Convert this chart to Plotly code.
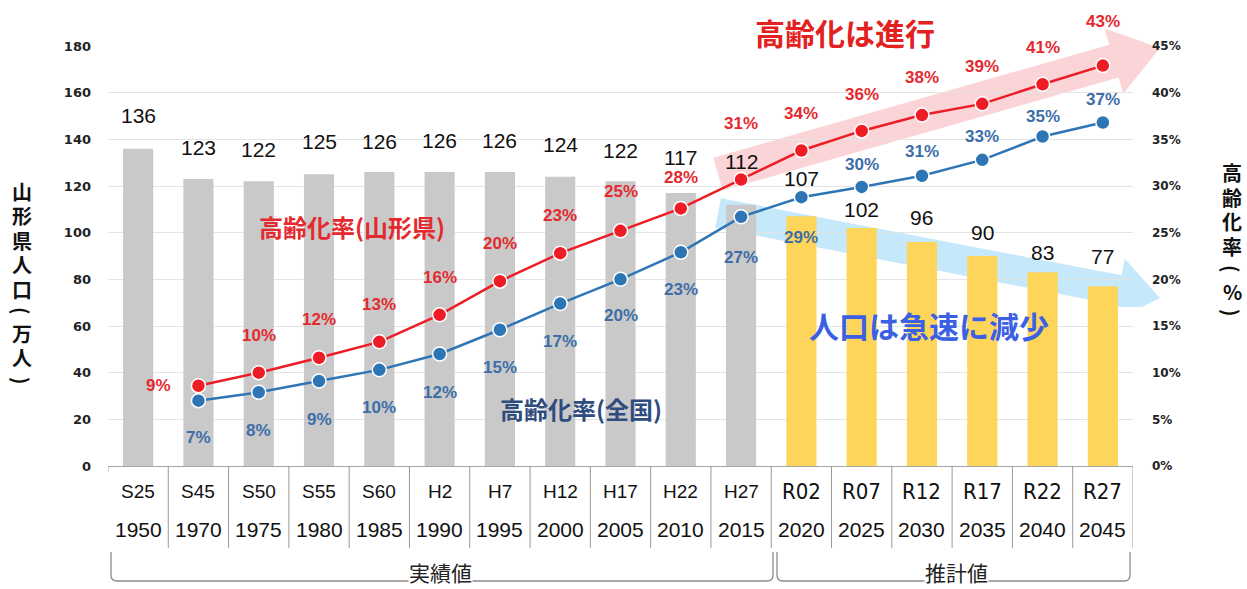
import math
import plotly.graph_objects as go

# ---------------- data ----------------
era_labels = ["S25", "S45", "S50", "S55", "S60", "H2", "H7", "H12", "H17", "H22", "H27",
              "R02", "R07", "R12", "R17", "R22", "R27"]
year_labels = ["1950", "1970", "1975", "1980", "1985", "1990", "1995", "2000", "2005", "2010",
               "2015", "2020", "2025", "2030", "2035", "2040", "2045"]
population = [136, 123, 122, 125, 126, 126, 126, 124, 122, 117, 112, 107, 102, 96, 90, 83, 77]
n_actual = 11  # first 11 are 実績値, rest 推計値
rate_yamagata = [8.6, 10.0, 11.6, 13.3, 16.2, 19.8, 22.8, 25.2, 27.6, 30.7,
                 33.8, 35.9, 37.6, 38.8, 40.9, 42.9]
rate_national = [7.0, 7.9, 9.1, 10.3, 12.0, 14.6, 17.4, 20.0, 22.9, 26.7,
                 28.8, 29.9, 31.1, 32.8, 35.3, 36.8]
rate_start = 1  # rates start at the second category (1970)

# label offsets (pixels, style only)
bar_label_shift = [33, 32, 32, 33, 31, 32, 32, 32, 31, 36, 43, 38, 19, 25, 24, 20, 30]
red_label_shift = [0, 37, 38, 37, 37, 38, 38, 39, 31, 56, 37, 36, 38, 37, 37, 44]
red_label_xshift = [-40] + [0] * 15
blue_label_shift = [-37, -38, -38, -38, -38, -38, -38, -36, -37, -41, -40, 22, 24, 23, 20, 23]

# ---------------- styles ----------------
NUM = "Liberation Sans, Arial, sans-serif"
NARROW = "Liberation Sans Narrow, DejaVu Sans Condensed, Arial Narrow, sans-serif"
JP = "Noto Sans CJK JP, sans-serif"
RED = "#ee1d25"
RED_TXT = "#e42a2f"
BLUE = "#2e75b6"
BLUE_TXT = "#3d6ea8"
GRAY_BAR = "#c9c9c9"
YEL_BAR = "#fdd55a"

W, H = 1247, 589
L, R, T, B = 108, 1133, 46, 466


def pxx(x):
    return (x - L) / (R - L)


def pxy(y):
    return (B - y) / (B - T)


def clip_below(pts, ymax):
    out = []
    n = len(pts)
    for i in range(n):
        cur, prev = pts[i], pts[i - 1]
        cin, pin = cur[1] <= ymax, prev[1] <= ymax
        if cin:
            if not pin:
                t = (ymax - prev[1]) / (cur[1] - prev[1])
                out.append((prev[0] + t * (cur[0] - prev[0]), ymax))
            out.append(cur)
        elif pin:
            t = (ymax - prev[1]) / (cur[1] - prev[1])
            out.append((prev[0] + t * (cur[0] - prev[0]), ymax))
    return out


def arrow_path(x0, y0, x1, y1, hw, hhw, hl, clip_y=None):
    dx, dy = x1 - x0, y1 - y0
    n = math.hypot(dx, dy)
    ux, uy = dx / n, dy / n
    qx, qy = -uy, ux
    bx, by = x1 - ux * hl, y1 - uy * hl
    pts = [(x0 + qx * hw, y0 + qy * hw), (bx + qx * hw, by + qy * hw),
           (bx + qx * hhw, by + qy * hhw), (x1, y1),
           (bx - qx * hhw, by - qy * hhw), (bx - qx * hw, by - qy * hw),
           (x0 - qx * hw, y0 - qy * hw)]
    if clip_y is not None:
        pts = clip_below(pts, clip_y)
    return "M " + " L ".join(f"{pxx(x):.4f},{pxy(y):.4f}" for x, y in pts) + " Z"


def brace_path(x0, x1, ytop, ybot, r=6):
    return (f"M {pxx(x0):.4f},{pxy(ytop):.4f} L {pxx(x0):.4f},{pxy(ybot - r):.4f} "
            f"Q {pxx(x0):.4f},{pxy(ybot):.4f} {pxx(x0 + r):.4f},{pxy(ybot):.4f} "
            f"L {pxx(x1 - r):.4f},{pxy(ybot):.4f} "
            f"Q {pxx(x1):.4f},{pxy(ybot):.4f} {pxx(x1):.4f},{pxy(ybot - r):.4f} "
            f"L {pxx(x1):.4f},{pxy(ytop):.4f}")


def text_at(x, y, text, font, angle=0):
    return dict(x=pxx(x), y=pxy(y), xref="paper", yref="paper", text=text, showarrow=False,
                xanchor="center", yanchor="middle", font=font, textangle=angle)


cat_idx = list(range(len(year_labels)))
rate_idx = cat_idx[rate_start:]

fig = go.Figure()

bar_colors = [GRAY_BAR if i < n_actual else YEL_BAR for i in cat_idx]
fig.add_trace(go.Bar(x=cat_idx, y=population, marker=dict(color=bar_colors, line=dict(width=0)),
                     yaxis="y", showlegend=False, hoverinfo="skip"))
fig.add_trace(go.Scatter(x=rate_idx, y=rate_national, yaxis="y2", mode="lines+markers",
                         line=dict(color=BLUE, width=2.5),
                         marker=dict(size=14, color=BLUE, line=dict(color="white", width=1.5)),
                         showlegend=False, hoverinfo="skip"))
fig.add_trace(go.Scatter(x=rate_idx, y=rate_yamagata, yaxis="y2", mode="lines+markers",
                         line=dict(color=RED, width=2.5),
                         marker=dict(size=14, color=RED, line=dict(color="white", width=1.5)),
                         showlegend=False, hoverinfo="skip"))

ann = []
# bar value labels
for i, v in enumerate(population):
    ann.append(dict(x=i, y=v, xref="x", yref="y", text=str(v), showarrow=False,
                    xanchor="center", yanchor="middle",
                    yshift=bar_label_shift[i], font=dict(family=NUM, size=21, color="#111111")))
# rate labels
for k, v in enumerate(rate_yamagata):
    ann.append(dict(x=rate_idx[k], y=v, xref="x", yref="y2", text=f"{round(v)}%", showarrow=False,
                    xanchor="center", yanchor="middle",
                    yshift=red_label_shift[k], xshift=red_label_xshift[k],
                    font=dict(family=NUM, size=17, color=RED_TXT, weight="bold")))
for k, v in enumerate(rate_national):
    ann.append(dict(x=rate_idx[k], y=v, xref="x", yref="y2", text=f"{round(v)}%", showarrow=False,
                    xanchor="center", yanchor="middle",
                    yshift=blue_label_shift[k],
                    font=dict(family=NUM, size=17, color=BLUE_TXT, weight="bold")))

# category table labels
for i, (e, yr) in enumerate(zip(era_labels, year_labels)):
    proj = i >= n_actual
    ann.append(dict(x=i, y=pxy(491), xref="x", yref="paper", text=e, showarrow=False,
                    xanchor="center", yanchor="middle",
                    font=dict(family=NARROW if proj else NUM, size=22 if proj else 19, color="#111111")))
    ann.append(dict(x=i, y=pxy(529), xref="x", yref="paper", text=yr, showarrow=False,
                    xanchor="center", yanchor="middle",
                    font=dict(family=NUM, size=21, color="#111111")))

# bracket captions
cap = dict(family=JP, size=21, color="#222222")
for cx, label in [(440, "実績値"), (956, "推計値")]:
    a = text_at(cx, 572, label, cap)
    a["bgcolor"] = "white"
    a["borderpad"] = 0
    ann.append(a)

# callouts
ann.append(text_at(352, 226, "高齢化率(山形県)", dict(family=JP, size=24, color=RED_TXT, weight="bold")))
ann.append(text_at(581, 408, "高齢化率(全国)", dict(family=JP, size=24, color="#2f4c7e", weight="bold")))
ann.append(text_at(845, 32, "高齢化は進行", dict(family=JP, size=30, color="#e3211f", weight="bold")))
ann.append(text_at(929, 325, "人口は急速に減少", dict(family=JP, size=30, color="#3b60e4", weight="bold")))

# vertical axis titles (one glyph per annotation; brackets rotated for vertical writing)
tfont = dict(family=JP, size=20, color="#111111", weight="bold")
left_title = ["山", "形", "県", "人", "口", "(", "万", "人", ")"]
left_y = [191, 215.5, 240, 264.5, 289, 311, 333, 357.5, 381]
for ch, yy in zip(left_title, left_y):
    ann.append(text_at(22, yy, ch, tfont, 90 if ch in "()" else 0))
right_title = ["高", "齢", "化", "率", "(", "%", ")"]
right_y = [172, 197, 222, 247, 269, 291, 313]
for ch, yy in zip(right_title, right_y):
    ann.append(text_at(1232, yy, ch, tfont, 90 if ch in "()" else 0))

shapes = []
# arrows (decoration)
shapes.append(dict(type="path", xref="paper", yref="paper", layer="below",
                   path=arrow_path(718, 174, 1160, 48, 17, 34, 48),
                   fillcolor="rgba(248,170,178,0.5)", line=dict(width=0)))
shapes.append(dict(type="path", xref="paper", yref="paper", layer="below",
                   path=arrow_path(718, 213, 1160, 298, 15, 32, 42, clip_y=307),
                   fillcolor="rgba(140,210,245,0.5)", line=dict(width=0)))
# table separators
for i in range(1, len(year_labels) + 1):
    shapes.append(dict(type="line", xref="x", yref="paper", x0=i - 0.5, x1=i - 0.5,
                       y0=0, y1=pxy(548), line=dict(color="#9a9a9a", width=1)))
shapes.append(dict(type="line", xref="x", yref="paper", x0=-0.5, x1=-0.5,
                   y0=0, y1=pxy(472), line=dict(color="#9a9a9a", width=1)))
# brackets
shapes.append(dict(type="path", xref="paper", yref="paper", path=brace_path(111, 773, 552, 581),
                   line=dict(color="#8c8c8c", width=1.3)))
shapes.append(dict(type="path", xref="paper", yref="paper", path=brace_path(777, 1130, 552, 581),
                   line=dict(color="#8c8c8c", width=1.3)))

fig.update_layout(
    width=W, height=H, autosize=False,
    margin=dict(l=L, r=W - R, t=T, b=H - B),
    paper_bgcolor="white", plot_bgcolor="white",
    bargap=0.5,
    xaxis=dict(type="linear", range=[-0.5, len(year_labels) - 0.5], showticklabels=False,
               showgrid=False, showline=True, linecolor="#a6a6a6", linewidth=1, zeroline=False),
    yaxis=dict(range=[0, 180], dtick=20, showgrid=True, gridcolor="#e4e4e4", gridwidth=1,
               zeroline=False, showline=False, ticklabelstandoff=16,
               tickfont=dict(family="DejaVu Sans, sans-serif", size=13, color="#222222", weight="bold")),
    yaxis2=dict(range=[0, 45], dtick=5, ticksuffix="%", overlaying="y", side="right",
                showgrid=False, zeroline=False, showline=False, ticklabelstandoff=18,
                tickfont=dict(family="DejaVu Sans, sans-serif", size=12, color="#222222", weight="bold")),
    annotations=ann,
    shapes=shapes,
)

fig.write_html("out.html", config={"displayModeBar": False},
               post_script="document.body.style.margin='0';document.body.style.padding='0';")
